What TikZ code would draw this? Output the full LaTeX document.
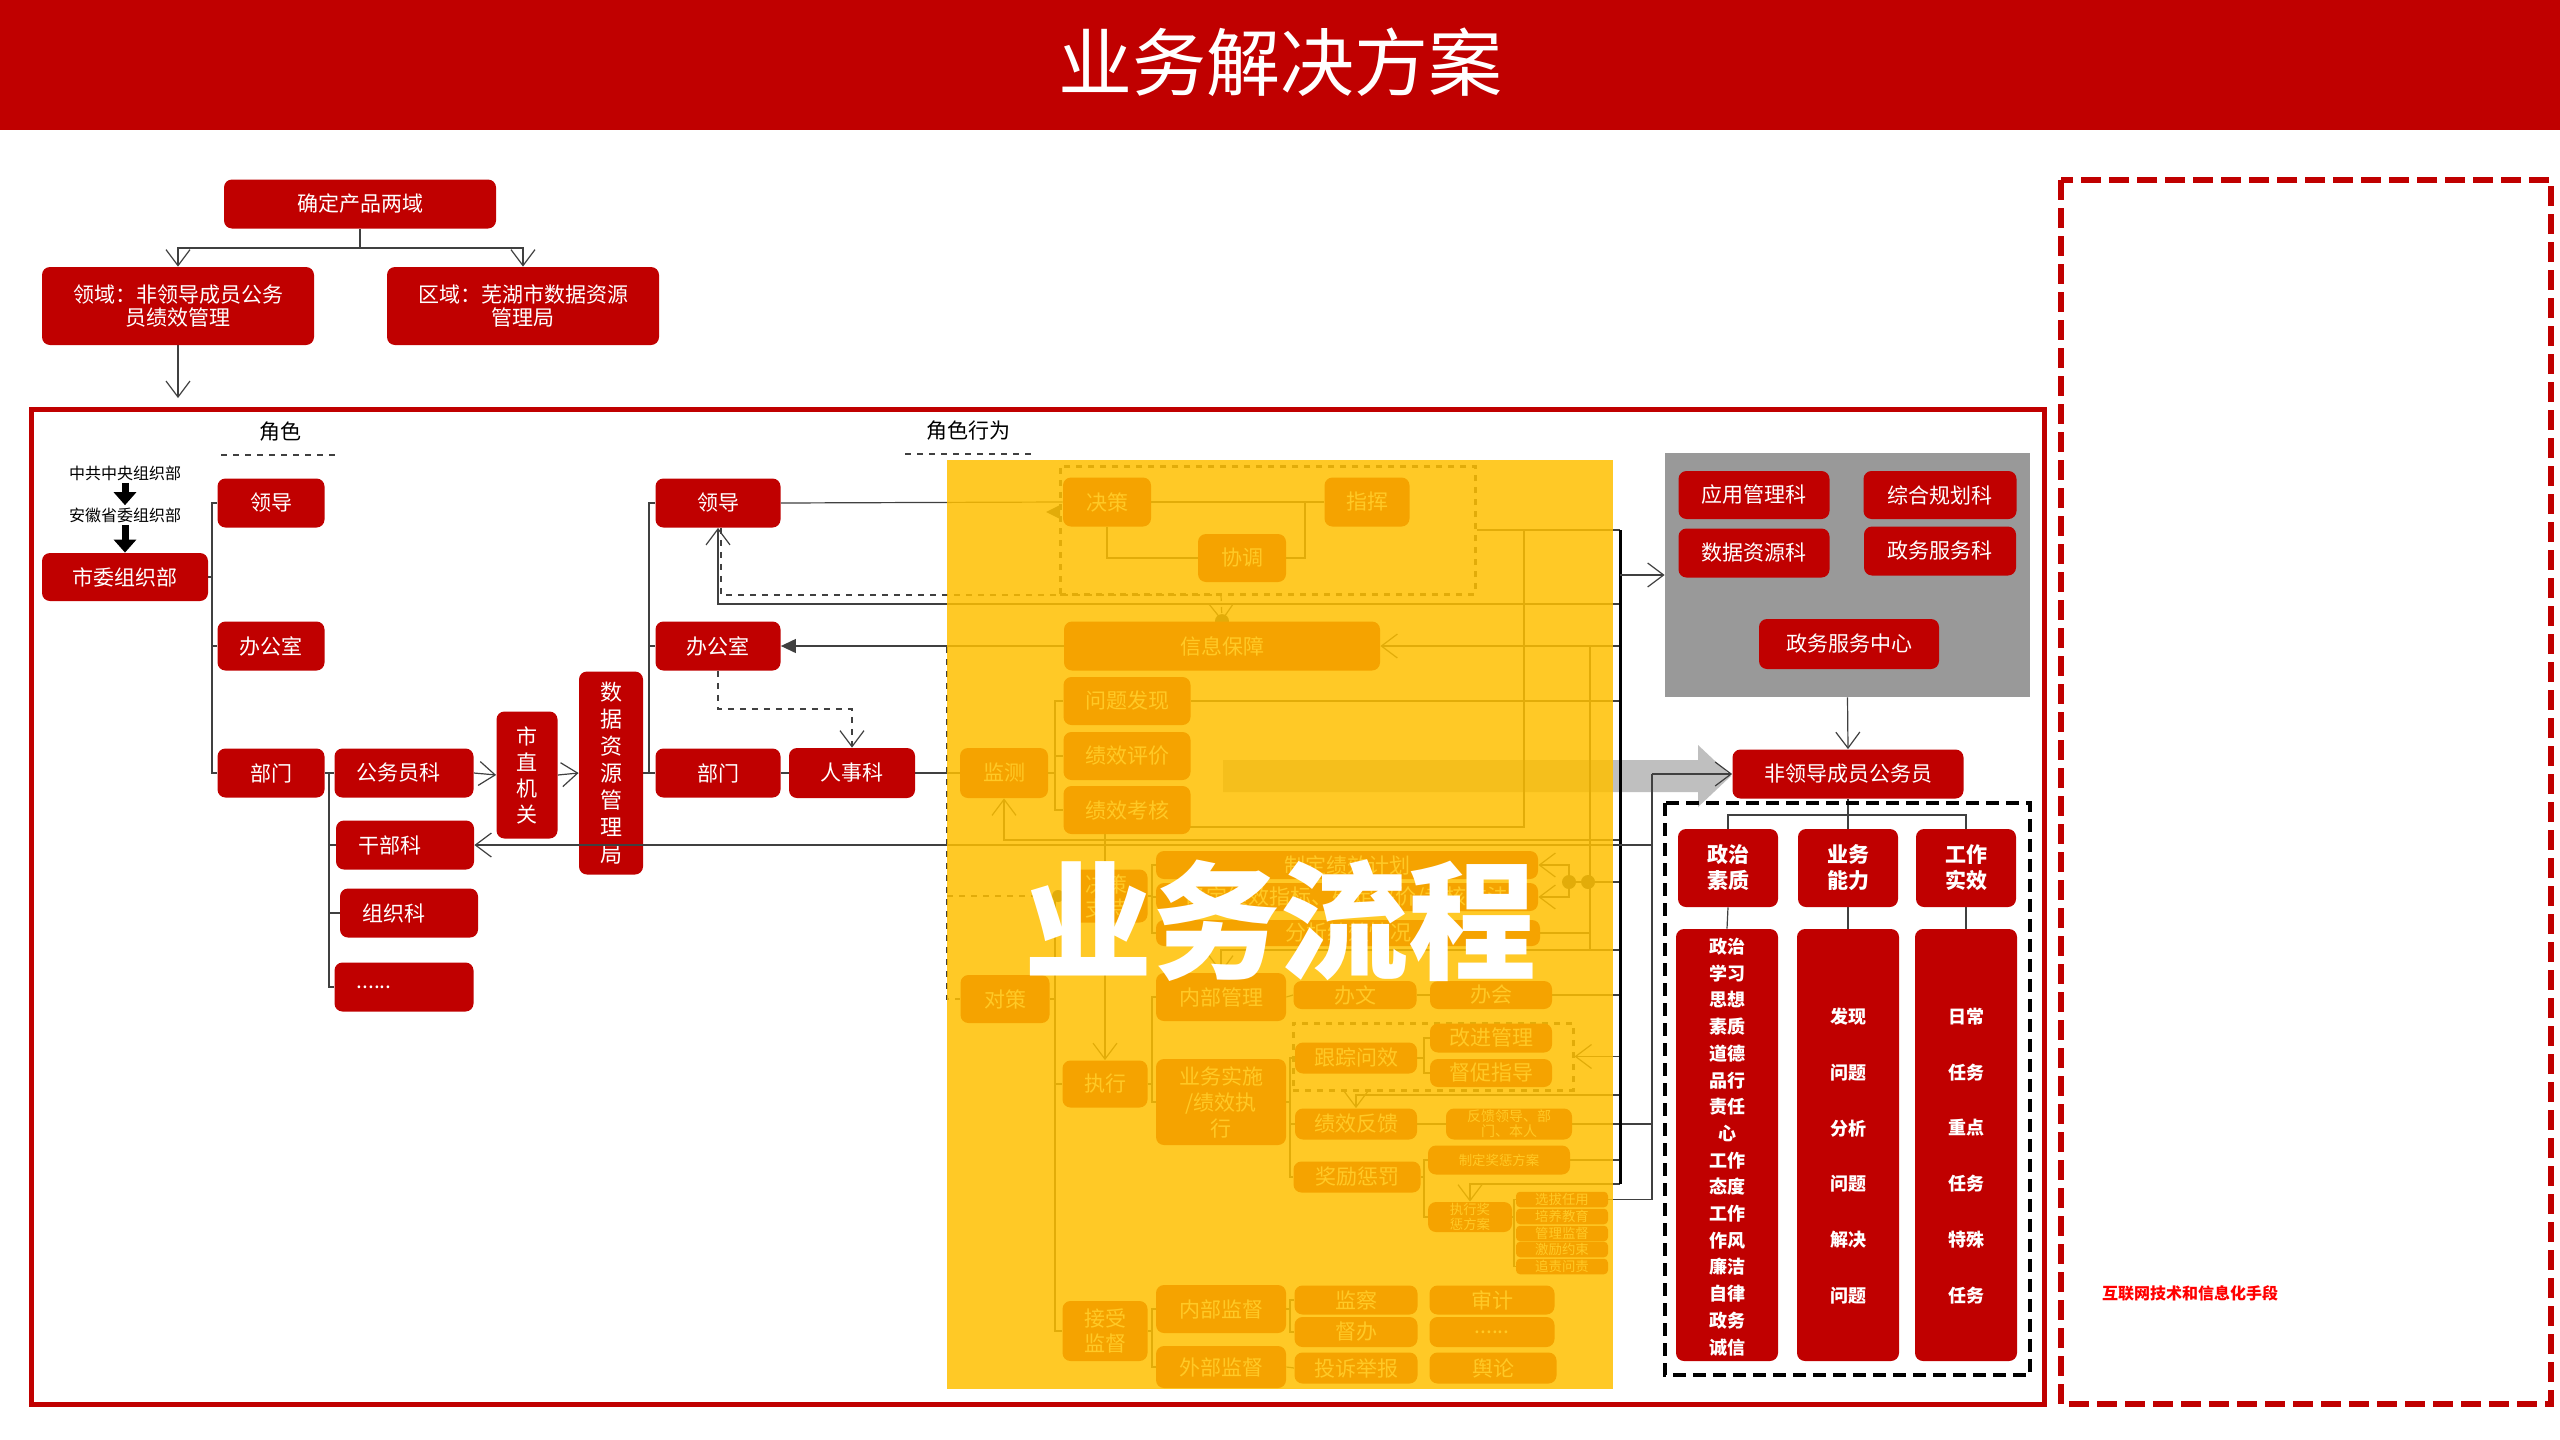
\documentclass[tikz,border=0pt]{standalone}
\usepackage{fontspec}
\setmainfont{Noto Sans CJK SC}
\usetikzlibrary{arrows.meta}
\definecolor{red0}{HTML}{C00000}
\definecolor{yel}{HTML}{FFC000}
\definecolor{gpc}{HTML}{999999}
\definecolor{arrg}{HTML}{BFBFBF}
\definecolor{lc}{HTML}{404040}
\pgfdeclarelayer{back}\pgfdeclarelayer{bg}\pgfdeclarelayer{fg}
\pgfsetlayers{back,bg,main,fg}
\newcommand\fs{\fontsize{10.5}{12.5}\selectfont}
\newcommand\fsm{\fontsize{6.7}{7.5}\selectfont}
\newcommand\bx[6][]{\node[box,minimum width=#4*0.5pt,minimum height=#5*0.5pt,#1] (#2) at (#3) {#6};}
\tikzset{
 box/.style={rectangle,rounded corners=4pt,fill=red0,text=white,inner sep=0pt,align=center,font=\fs},
 conn/.style={draw=lc,line width=0.6pt},
 oa/.style={-{Straight Barb[length=8pt,width=12pt]}},
 fa/.style={-{Triangle[length=7.5pt,width=7pt]}},
 lbox/.style={align=left,inner xsep=11pt},
 blk/.style={line width=3.5pt,-{Triangle[length=6.5pt,width=11pt]}},
 lbl/.style={font=\fs,inner sep=1pt},
 sml/.style={font=\fontsize{8}{9}\selectfont,inner sep=1pt}
}
\begin{document}
\begin{tikzpicture}[x=0.5pt,y=-0.5pt]
\useasboundingbox (0,0) rectangle (2560,1440);
\begin{pgfonlayer}{back}
\fill[white] (0,0) rectangle (2560,1440);
\fill[arrg] (1223,760) -- (1698,760) -- (1698,745) -- (1731,776) -- (1698,807) -- (1698,792) -- (1223,792) -- cycle;
\end{pgfonlayer}
% title
\fill[red0] (0,0) rectangle (2560,130);
\node[text=white,font=\fontsize{37}{40}\selectfont] (title) at (1280,62) {业务解决方案};
% frames
\draw[red0,line width=2.5pt] (31,409) rectangle (2044,1404);
\draw[red0,line width=2.6pt,dash pattern=on 10pt off 4pt] (2061,180) rectangle (2551,1404);
\node[text=red,font=\fontsize{8}{9}\selectfont\bfseries] (hlw) at (2190,1293) {互联网技术和信息化手段};
% top
\bx{q}{360,204}{272}{49}{确定产品两域}
\bx[font=\fontsize{10.5}{11.5}\selectfont]{ly}{178,306}{272}{78}{领域：非领导成员公务\\员绩效管理}
\bx[font=\fontsize{10.5}{11.5}\selectfont]{qy}{523,306}{272}{78}{区域：芜湖市数据资源\\管理局}
% labels
\node[lbl] (js) at (280,432) {角色};
\node[lbl] (jsxw) at (968,431) {角色行为};
\draw[lc,dashed,line width=0.6pt] (221,455) -- (335,455);
\draw[lc,dashed,line width=0.6pt] (905,454) -- (1032,454);
\node[sml] (zy1) at (125,473) {中共中央组织部};
\node[sml] (zy2) at (125,515) {安徽省委组织部};
% left column
\bx{sw}{125,577}{166}{48}{市委组织部}
\bx{ld1}{271,503}{107}{49}{领导}
\bx{bg1}{271,646}{107}{49}{办公室}
\bx{bm1}{271,773}{107}{49}{部门}
\bx[lbox,text width=47.5pt]{gwy}{404,773}{139}{49}{公务员科}
\bx[lbox,text width=47pt]{gb}{405,845}{138}{49}{干部科}
\bx[lbox,text width=47pt]{zz}{409,913}{138}{49}{组织科}
\bx[lbox,text width=47.5pt]{dots1}{404,987}{139}{49}{......}
\bx[font=\fontsize{10.5}{13}\selectfont]{szjg}{527,775}{61}{127}{市\\直\\机\\关}
\bx[font=\fontsize{11}{13.5}\selectfont]{sjj}{611,773}{64}{203}{数\\据\\资\\源\\管\\理\\局}
\bx{ld2}{718,503}{125}{49}{领导}
\bx{bg2}{718,646}{125}{49}{办公室}
\bx{bm2}{718,773}{125}{49}{部门}
\bx{rsk}{852,773}{126}{50}{人事科}
% yellow region
\node[draw=lc,dashed,line width=1.5pt,minimum width=415*0.5pt,minimum height=128*0.5pt,inner sep=0pt] (db1) at (1267.5,530) {};
\bx{jcD}{1107,502}{88}{49}{决策}
\bx{zh}{1367,502}{85}{49}{指挥}
\bx{xt}{1242,558}{88}{48}{协调}
\bx{xxbz}{1222,646}{316}{49}{信息保障}
\bx{wtfx}{1127,701}{127}{48}{问题发现}
\bx{jxpj}{1127,756}{127}{48}{绩效评价}
\bx{jxkh}{1127,810}{127}{48}{绩效考核}
\bx{jc}{1004,773}{88}{50}{监测}
\bx[font=\fontsize{10.5}{12}\selectfont]{jczc}{1106,896}{83}{53}{决策\\支持}
\bx{zdjh}{1347,865}{382}{28}{制定绩效计划}
\bx{qdzb}{1347,897}{382}{28}{确定绩效指标、确定评价/考核方法}
\bx{fxqk}{1348,933}{384}{26}{分析绩效情况}
\bx{dc}{1005,999}{89}{48}{对策}
\bx{nbgl}{1221,997}{130}{48}{内部管理}
\bx{bw}{1355,995}{123}{28}{办文}
\bx{bh}{1491,995}{122}{28}{办会}
\bx{zx}{1105,1084}{85}{47}{执行}
\bx[font=\fontsize{10.5}{13}\selectfont]{ywss}{1221,1102}{130}{86}{业务实施\\/绩效执\\行}
\node[draw=lc,dashed,line width=1.5pt,minimum width=280*0.5pt,minimum height=67*0.5pt,inner sep=0pt] (db2) at (1433,1056.5) {};
\bx{gzwx}{1356,1058}{122}{31}{跟踪问效}
\bx{gjgl}{1491,1038}{122}{29}{改进管理}
\bx{dczd}{1491,1073}{122}{28}{督促指导}
\bx{jxfk}{1356,1124}{122}{31}{绩效反馈}
\bx[font=\fontsize{7}{7.5}\selectfont]{fkld}{1509,1124}{126}{31}{反馈领导、部\\门、本人}
\bx{jlcf}{1357,1177}{127}{31}{奖励惩罚}
\bx[font=\fsm]{zdjc}{1499,1160}{142}{29}{制定奖惩方案}
\bx[font=\fsm]{zxjc}{1470,1217}{84}{30}{执行奖\\惩方案}
\bx[font=\fsm,rounded corners=2pt]{l1}{1562,1199.5}{92}{15.5}{选拔任用}
\bx[font=\fsm,rounded corners=2pt]{l2}{1562,1216.5}{92}{15.5}{培养教育}
\bx[font=\fsm,rounded corners=2pt]{l3}{1562,1233.5}{92}{15.5}{管理监督}
\bx[font=\fsm,rounded corners=2pt]{l4}{1562,1249.5}{92}{15.5}{激励约束}
\bx[font=\fsm,rounded corners=2pt]{l5}{1562,1266.5}{92}{15.5}{追责问责}
\bx[font=\fontsize{10.5}{12.5}\selectfont]{jsjd}{1105,1331}{85}{60}{接受\\监督}
\bx{nbjd}{1221,1309}{130}{48}{内部监督}
\bx{wbjd}{1221,1367}{130}{42}{外部监督}
\bx{jcha}{1356,1300}{123}{29}{监察}
\bx{dbn}{1356,1332}{123}{30}{督办}
\bx{tsjb}{1356,1368}{123}{31}{投诉举报}
\bx{sj}{1492,1300}{125}{29}{审计}
\bx{dots2}{1492,1332}{125}{30}{......}
\bx{yl}{1493,1368}{127}{31}{舆论}
% gray panel
\node[fill=gpc,minimum width=365*0.5pt,minimum height=244*0.5pt,inner sep=0pt] (gp) at (1847.5,575) {};
\bx{yy}{1754,495}{151}{48}{应用管理科}
\bx{zhgh}{1940,495}{153}{48}{综合规划科}
\bx{sjzy}{1754,553}{151}{49}{数据资源科}
\bx{zwfwk}{1940,551}{152}{49}{政务服务科}
\bx{zwzx}{1849,644}{180}{50}{政务服务中心}
\bx{fld}{1848,774}{231}{49}{非领导成员公务员}
\draw[black,line width=1.7pt,dash pattern=on 6.5pt off 3.5pt] (1665,803) rectangle (2030,1375);
\bx[font=\fontsize{10.5}{13}\selectfont\bfseries]{zzsz}{1728,868}{100}{78}{政治\\素质}
\bx[font=\fontsize{10.5}{13}\selectfont\bfseries]{ywnl}{1848,868}{100}{78}{业务\\能力}
\bx[font=\fontsize{10.5}{13}\selectfont\bfseries]{gzsx}{1966,868}{100}{78}{工作\\实效}
\bx{t1}{1727,1145}{102}{432}{}
\bx{t2}{1848,1145}{102}{432}{}
\bx{t3}{1966,1145}{102}{432}{}
\node[text=white,align=center,font=\fontsize{9}{13.35}\selectfont\bfseries] (t1t) at (1727,1147) {政治\\学习\\思想\\素质\\道德\\品行\\责任\\心\\工作\\态度\\工作\\作风\\廉洁\\自律\\政务\\诚信};
\node[text=white,align=center,font=\fontsize{9}{27.9}\selectfont\bfseries] (t2t) at (1848,1156) {发现\\问题\\分析\\问题\\解决\\问题};
\node[text=white,align=center,font=\fontsize{9}{27.9}\selectfont\bfseries] (t3t) at (1966,1156) {日常\\任务\\重点\\任务\\特殊\\任务};
% coordinates
\coordinate (busx) at (1620,0);
\coordinate (bBx) at (1652,0);
\coordinate (qj) at (360,248);
\coordinate (lyend) at (178,398);
\coordinate (br1) at (212,577);
\coordinate (br2) at (329,773);
\coordinate (br3) at (649,773);
\coordinate (d595) at (1221,595);
\coordinate (c709) at (852,709);
\coordinate (v947) at (947,647);
\coordinate (k1) at (1305,502);
\coordinate (jb) at (1055,773);
\coordinate (k1524) at (1524,530);
\coordinate (k827) at (1524,827);
\coordinate (b604) at (1620,604);
\coordinate (b840) at (1620,840);
\coordinate (bB845) at (1652,845);
\coordinate (c1590a) at (1590,647);
\coordinate (c950) at (1590,950);
\coordinate (dt1) at (1569,882);
\coordinate (dt2) at (1588,882);
\coordinate (jz) at (1152,896);
\coordinate (zb) at (1152,1084);
\coordinate (dbr) at (1055,999);
\coordinate (yb) at (1290,1102);
\coordinate (gb2) at (1424,1058);
\coordinate (b1095) at (1620,1095);
\coordinate (jb2) at (1424,1177);
\coordinate (b1184) at (1620,1184);
\coordinate (lb) at (1514,1217);
\coordinate (sb) at (1152,1331);
\coordinate (nb) at (1290,1309);
\coordinate (c815) at (1848,815);
\draw[conn,oa] (bB845) -- (gb.east);
\begin{pgfonlayer}{bg}
\draw[conn] (q.south) -- (qj);
\draw[conn,oa] (qj) -| (ly.north);
\draw[conn,oa] (qj) -| (qy.north);
\draw[conn,oa] (ly.south) -- (lyend);
\draw[blk] (zy1.south) -- (zy2.north);
\draw[blk] (zy2.south) -- (sw.north);
\draw[conn] (sw.east) -- (br1);
\draw[conn] (ld1.west) -| (br1) |- (bm1.west);
\draw[conn] (bg1.west) -- (br1 |- bg1.west);
\draw[conn] (bm1.east) -- (gwy.west);
\draw[conn] (br2) |- (dots1.west);
\draw[conn] (br2 |- gb.west) -- (gb.west);
\draw[conn] (br2 |- zz.west) -- (zz.west);
\draw[conn,oa] (gwy.east) -- (szjg.west);
\draw[conn,oa] (szjg.east) -- (sjj.west);
\draw[conn] (sjj.east) -- (bm2.west);
\draw[conn] (ld2.west) -| (br3);
\draw[conn] (br3 |- bg2.west) -- (bg2.west);
\draw[conn] (bm2.east) -- (rsk.west);
\draw[conn] (rsk.east) -- (jc.west);
\draw[conn] (ld2.east) -- (jcD.west);
\draw[conn,oa] (b604) -| (ld2.south);
\draw[conn,dashed] ([xshift=1.5pt]ld2.south) |- (d595);
\draw[conn,dashed,oa] (d595) -- (xxbz.north);
\fill[lc] (xxbz.north) circle (3.5pt);
\fill[lc] (1046,512) -- (1060,505) -- (1060,519) -- cycle;
\draw[conn,fa] (xxbz.west) -- (bg2.east);
\draw[conn,dashed,oa] (bg2.south) |- (c709) -- (rsk.north);
\draw[conn,dashed] (v947) |- (dc.west);
\draw[conn,dashed] (v947 |- jczc.west) -- (jczc.west);
\fill[lc] ([xshift=-3pt]jczc.west) circle (3pt);
\draw[conn] (jcD.east) -- (zh.west);
\draw[conn] (k1) |- (xt.east);
\draw[conn] (jcD.south) |- (xt.west);
\draw[conn] (db1.east) -- (db1.east -| busx);
\draw[conn,oa] (k1524) -- (k827) -| (zx.north);
\draw[conn,oa] (xxbz.east -| busx) -- (xxbz.east);
\draw[conn] (c1590a) -- (c950);
\draw[conn,oa] (busx |- c950) -| (nbgl.north);
\draw[conn] (wtfx.east) -- (wtfx.east -| busx);
\draw[conn] (jc.east) -- (jb);
\draw[conn] (wtfx.west) -| (jb) |- (jxkh.west);
\draw[conn] (jxpj.west) -- (jb |- jxpj.west);
\draw[conn,oa] (b840) -| (jc.south);
\draw[conn] (dt1) -- (busx |- dt1);
\draw[conn,oa] (dt1) |- (zdjh.east);
\draw[conn,oa] (dt1) |- (qdzb.east);
\fill[lc] (dt1) circle (3.5pt);
\fill[lc] (dt2) circle (3.5pt);
\draw[conn] (fxqk.east) -- (fxqk.east -| c950);
\draw[conn] (jczc.east) -- (jz);
\draw[conn] (zdjh.west) -| (jz) |- (fxqk.west);
\draw[conn] (qdzb.west) -- (jz |- qdzb.west);
\draw[conn] (dc.east) -- (dbr);
\draw[conn] (jczc.west) -| (dbr) |- (jsjd.west);
\draw[conn] (zx.west) -- (dbr |- zx.west);
\draw[conn] (nbgl.east) -- (bw.west);
\draw[conn] (bw.east) -- (bh.west);
\draw[conn] (bh.east) -- (bh.east -| busx);
\draw[conn] (zx.east) -- (zb);
\draw[conn] (nbgl.west) -| (zb) |- (ywss.west);
\draw[conn] (ywss.east) -- (yb);
\draw[conn] (gzwx.west) -| (yb) |- (jlcf.west);
\draw[conn] (jxfk.west) -- (yb |- jxfk.west);
\draw[conn] (gzwx.east) -- (gb2);
\draw[conn] (gjgl.west) -| (gb2) |- (dczd.west);
\draw[conn,oa] (db2.east -| busx) -- (db2.east);
\draw[conn,oa] (b1095) -| (jxfk.north);
\draw[conn] (jxfk.east) -- (fkld.west);
\draw[conn] (fkld.east) -- (fkld.east -| bBx);
\draw[conn] (jlcf.east) -- (jb2);
\draw[conn] (zdjc.west) -| (jb2) |- (zxjc.west);
\draw[conn] (zdjc.east) -- (zdjc.east -| busx);
\draw[conn,oa] (b1184) -| (zxjc.north);
\draw[conn] (zxjc.east) -- (lb);
\draw[conn] (l1.west) -| (lb) |- (l5.west);
\draw[conn] (l1.east) -- (l1.east -| bBx);
\draw[conn] (jsjd.east) -- (sb);
\draw[conn] (nbjd.west) -| (sb) |- (wbjd.west);
\draw[conn] (nbjd.east) -- (nb);
\draw[conn] (jcha.west) -| (nb) |- (dbn.west);
\draw[conn] (wbjd.east) -- (tsjb.west);
\draw[black,line width=1.5pt] (busx |- db1.east) -- (b1184);
\draw[conn,line width=0.9pt] (bBx |- fld.west) -- (bBx |- l1.east);
\draw[conn,oa] (bBx |- fld.west) -- (fld.west);
\draw[conn,oa] (busx |- gp.west) -- (gp.west);
\draw[conn,oa] (gp.south) -- (fld.north);
\draw[conn] (fld.south) -- (c815);
\draw[conn] (zzsz.north) |- (c815) -| (gzsx.north);
\draw[conn] (c815) -- (ywnl.north);
\draw[conn] (zzsz.south) -- (t1.north);
\draw[conn] (ywnl.south) -- (t2.north);
\draw[conn] (gzsx.south) -- (t3.north);
\end{pgfonlayer}
\begin{pgfonlayer}{fg}
\fill[yel,opacity=0.85] (947,460) rectangle (1613,1389);
\node[text=white,font=\fontsize{64}{64}\selectfont\bfseries] (ywlc) at (1280,921) {业务流程};
\end{pgfonlayer}
\end{tikzpicture}
\end{document}
